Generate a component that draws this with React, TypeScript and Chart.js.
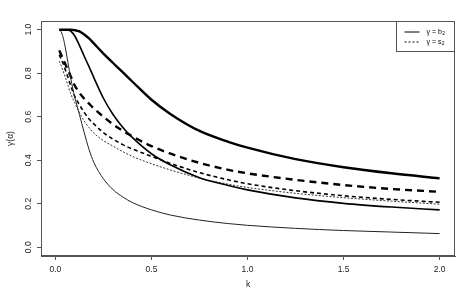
import React, { useEffect, useRef } from "react";
import { Chart, registerables } from "chart.js";

Chart.register(...registerables);

// k values (x axis)
const K = [0.02, 0.03, 0.04, 0.05, 0.065, 0.08, 0.1, 0.125, 0.15, 0.175, 0.2, 0.25, 0.3, 0.35, 0.4, 0.5, 0.6, 0.75, 0.9, 1.0, 1.25, 1.5, 1.75, 2.0];

// gamma = b2 (solid lines), thin / medium / thick
const B2_THIN = [1.0, 0.99, 0.965, 0.925, 0.85, 0.775, 0.693, 0.61, 0.527, 0.45, 0.39, 0.315, 0.265, 0.232, 0.206, 0.172, 0.148, 0.125, 0.109, 0.101, 0.087, 0.077, 0.07, 0.063];
const B2_MED = [1.0, 1.0, 1.0, 1.0, 0.999, 0.993, 0.972, 0.928, 0.878, 0.83, 0.78, 0.685, 0.61, 0.552, 0.505, 0.43, 0.378, 0.32, 0.284, 0.264, 0.227, 0.202, 0.185, 0.172];
const B2_THICK = [1.0, 1.0, 1.0, 1.0, 1.0, 1.0, 0.998, 0.992, 0.978, 0.96, 0.937, 0.89, 0.847, 0.805, 0.762, 0.678, 0.612, 0.535, 0.485, 0.458, 0.405, 0.368, 0.34, 0.317];

// gamma = s2 (dashed lines), thin / medium / thick
const S2_THIN = [0.855, 0.835, 0.81, 0.785, 0.745, 0.705, 0.665, 0.62, 0.58, 0.55, 0.525, 0.49, 0.465, 0.44, 0.418, 0.384, 0.355, 0.318, 0.29, 0.275, 0.248, 0.228, 0.212, 0.198];
const S2_MED = [0.885, 0.865, 0.845, 0.82, 0.782, 0.742, 0.695, 0.655, 0.62, 0.59, 0.567, 0.527, 0.497, 0.472, 0.452, 0.418, 0.385, 0.343, 0.31, 0.292, 0.26, 0.237, 0.22, 0.207];
const S2_THICK = [0.905, 0.885, 0.865, 0.845, 0.815, 0.785, 0.745, 0.71, 0.683, 0.66, 0.638, 0.6, 0.565, 0.536, 0.51, 0.465, 0.43, 0.388, 0.356, 0.34, 0.31, 0.286, 0.268, 0.255];

const X_TICKS = [0, 0.5, 1.0, 1.5, 2.0];
const Y_TICKS = [0, 0.2, 0.4, 0.6, 0.8, 1.0];
const X_TITLE = "k";
const Y_TITLE = "γ(α)";
const LEGEND = [
  { main: "γ = b", sub: "2", dash: [] as number[] },
  { main: "γ = s", sub: "2", dash: [2, 2] },
];

const FONT = "'Liberation Sans', Arial, Helvetica, sans-serif";
const AXIS_COLOR = "#555";

export default function App() {
  const ref = useRef<HTMLCanvasElement>(null);

  useEffect(() => {
    document.body.style.margin = "0";
    const canvas = ref.current!;
    const mk = (vals: number[], width: number, dash: number[], color = "#000") => ({
      data: K.map((k, i) => ({ x: k, y: vals[i] })),
      borderColor: color,
      borderWidth: width,
      borderDash: dash,
      pointRadius: 0,
      fill: false,
      cubicInterpolationMode: "monotone" as const,
    });

    const boxPlugin = {
      id: "boxAndLegend",
      afterDraw(chart: any) {
        const { ctx, chartArea: a } = chart;
        ctx.save();
        ctx.strokeStyle = AXIS_COLOR;
        ctx.lineWidth = 1;
        const L = Math.round(a.left) + 0.5;
        const T = Math.round(a.top) + 0.5;
        const R = Math.round(a.right) - 0.5;
        const B = Math.round(a.bottom) - 0.5;
        ctx.strokeRect(L, T, R - L, B - T);

        // legend box in top-right corner
        const lw = 58, lh = 30;
        const lx = R - lw, ly = T;
        ctx.fillStyle = "#fff";
        ctx.fillRect(lx, ly, lw, lh);
        ctx.strokeRect(lx, ly, lw, lh);
        LEGEND.forEach((item, i) => {
          const y = ly + 10.5 + i * 10;
          ctx.strokeStyle = "#000";
          ctx.lineWidth = 1;
          ctx.setLineDash(item.dash);
          ctx.beginPath();
          ctx.moveTo(lx + 8, y);
          ctx.lineTo(lx + 23, y);
          ctx.stroke();
          ctx.setLineDash([]);
          ctx.fillStyle = "#000";
          ctx.font = `7px ${FONT}`;
          ctx.textBaseline = "middle";
          ctx.textAlign = "left";
          ctx.fillText(item.main, lx + 30, y);
          const w = ctx.measureText(item.main).width;
          ctx.font = `5px ${FONT}`;
          ctx.fillText(item.sub, lx + 30 + w + 0.3, y + 2);
        });
        ctx.restore();
      },
    };

    const chart = new Chart(canvas, {
      type: "line",
      data: {
        datasets: [
          mk(B2_THIN, 1, [], "#222"),
          mk(B2_MED, 1.6, []),
          mk(B2_THICK, 2.4, []),
          mk(S2_THIN, 1, [2, 1.6], "#333"),
          mk(S2_MED, 1.6, [4, 3]),
          mk(S2_THICK, 2.4, [7, 5]),
        ],
      },
      options: {
        responsive: false,
        animation: false,
        layout: { padding: { top: 21, right: 21, left: 0, bottom: 0 } },
        plugins: { legend: { display: false }, tooltip: { enabled: false } },
        scales: {
          x: {
            type: "linear",
            min: -0.075,
            max: 2.08,
            afterBuildTicks: (s: any) => {
              s.ticks = X_TICKS.map((v) => ({ value: v }));
            },
            afterFit: (s: any) => {
              s.height = 41;
            },
            ticks: {
              autoSkip: false,
              maxRotation: 0,
              minRotation: 0,
              padding: 5,
              color: "#222",
              font: { family: FONT, size: 8.5 },
              callback: (v: any) => Number(v).toFixed(1),
            },
            grid: { display: true, drawOnChartArea: false, drawTicks: true, tickLength: 4, color: AXIS_COLOR },
            border: { display: true, color: AXIS_COLOR },
            title: {
              display: true,
              text: X_TITLE,
              color: "#222",
              font: { family: FONT, size: 8.5 },
              padding: { top: 0, bottom: 7 },
            },
          },
          y: {
            type: "linear",
            min: -0.04,
            max: 1.04,
            afterBuildTicks: (s: any) => {
              s.ticks = Y_TICKS.map((v) => ({ value: v }));
            },
            afterFit: (s: any) => {
              s.width = 41;
            },
            ticks: {
              autoSkip: false,
              minRotation: 90,
              maxRotation: 90,
              crossAlign: "center",
              padding: 2,
              color: "#222",
              font: { family: FONT, size: 8.5 },
              callback: (v: any) => Number(v).toFixed(1),
            },
            grid: { display: true, drawOnChartArea: false, drawTicks: true, tickLength: 4, color: AXIS_COLOR },
            border: { display: true, color: AXIS_COLOR },
            title: {
              display: true,
              text: Y_TITLE,
              color: "#222",
              font: { family: FONT, size: 8.5 },
              padding: { top: 6, bottom: 0 },
            },
          },
        },
      } as any,
      plugins: [boxPlugin],
    });
    return () => chart.destroy();
  }, []);

  return (
    <div style={{ width: 476, height: 297 }}>
      <canvas ref={ref} width={476} height={297} />
    </div>
  );
}
